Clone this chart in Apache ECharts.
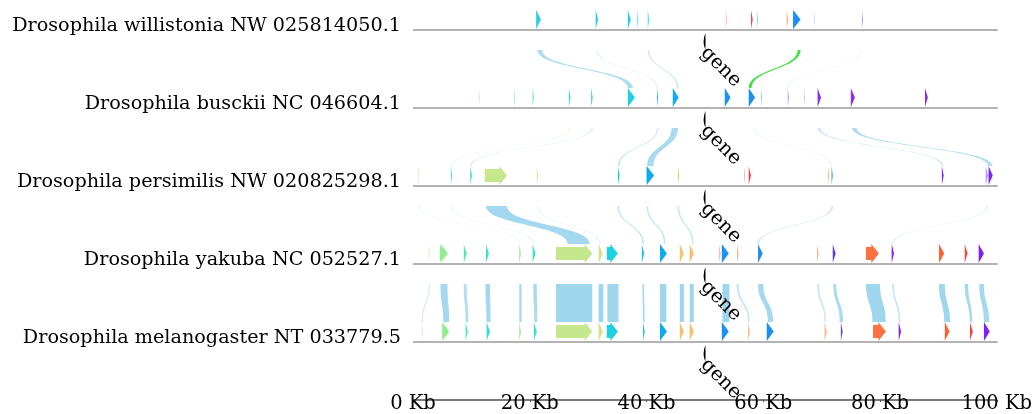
<!DOCTYPE html>
<html><head><meta charset="utf-8">
<script src="https://cdn.jsdelivr.net/npm/echarts@6/dist/echarts.min.js"></script>
<style>html,body{margin:0;padding:0;background:#fff}#c{width:1035px;height:414px}</style>
</head><body><div id="c"></div>
<script>
// ---------- DATA ----------
const trackNames = [
  'Drosophila willistonia NW 025814050.1',
  'Drosophila busckii NC 046604.1',
  'Drosophila persimilis NW 020825298.1',
  'Drosophila yakuba NC 052527.1',
  'Drosophila melanogaster NT 033779.5'
];
const xTicksKb = [0, 20, 40, 60, 80, 100];
const markerKb = 50;
const markerLabel = 'gene';

// genes: [start Kb, end Kb, ortholog group]
const genesWillistonia = [
  [21.1,21.9,'cyan'],[31.3,31.7,'cyan'],[36.8,37.3,'cyan'],[38.4,38.6,'cyanL'],[40.2,40.5,'cyanL'],
  [53.6,53.8,'pink'],[57.9,58.2,'red'],[58.9,59.1,'blueL'],[64.0,64.3,'peach'],[65.1,66.4,'blue2'],
  [68.7,68.8,'blueL'],[76.9,77.1,'lavender']
];
const genesBusckii = [
  [11.3,11.5,'greenF'],[17.3,17.5,'mint'],[20.5,20.7,'teal'],[26.7,27.0,'teal'],[30.5,30.8,'teal'],
  [36.8,38.0,'cyan'],[41.8,42.0,'cyanB'],[44.5,45.5,'blue'],[53.4,54.4,'blue2'],[57.5,58.6,'blue2'],
  [59.6,59.8,'blueL'],[64.2,64.4,'lavender'],[67.0,67.1,'lavender'],[69.3,69.9,'purple'],
  [75.0,75.7,'purple'],[87.7,88.2,'purple']
];
const genesPersimilis = [
  [0.9,1.1,'greenF'],[6.5,6.7,'teal'],[9.8,10.1,'teal'],[12.3,16.1,'lime'],[21.2,21.4,'ygreen'],
  [35.1,35.4,'cyan'],[40.0,41.3,'blue'],[45.4,45.6,'yellow'],[56.7,56.9,'pink'],[57.5,57.9,'red'],
  [71.1,71.3,'peach'],[71.7,71.9,'blue2'],[90.6,90.9,'violet'],[98.1,98.5,'lavender'],[98.6,99.3,'violet']
];
const genesYakuba = [
  [2.7,2.9,'greenF'],[4.6,6.0,'lgreen'],[8.7,9.2,'aqua'],[12.5,13.0,'teal'],[18.2,18.5,'lgreen2'],
  [20.5,21.0,'teal'],[24.5,30.7,'lime'],[31.8,32.5,'ygreen'],[33.2,35.1,'cyan'],[39.2,39.6,'cyanB'],
  [42.3,43.5,'blue'],[45.7,46.4,'yellow'],[47.4,48.1,'orangeY'],[52.4,52.7,'pink'],[52.9,54.1,'blue2'],
  [55.5,55.8,'peach'],[59.1,59.9,'blue2'],[69.2,69.5,'peach'],[71.9,72.4,'indigo'],[77.6,79.8,'orange'],
  [82.0,82.4,'violet'],[90.1,91.0,'orangeR'],[94.5,95.0,'red'],[96.9,97.8,'violet']
];
const genesMelanogaster = [
  [1.5,1.7,'greenF'],[5.0,6.2,'lgreen'],[9.0,9.4,'aqua'],[12.6,13.2,'teal'],[18.2,18.5,'lgreen2'],
  [20.7,21.2,'teal'],[24.5,30.7,'lime'],[31.8,32.5,'ygreen'],[33.2,35.1,'cyan'],[39.4,39.7,'cyanB'],
  [42.3,43.5,'blue'],[45.7,46.4,'yellow'],[47.4,48.1,'orangeY'],[52.9,54.1,'blue2'],[57.4,57.7,'peach'],
  [60.6,61.8,'blue2'],[70.5,70.9,'peach'],[73.3,73.6,'indigo'],[78.8,81.0,'orange'],[83.2,83.6,'violet'],
  [91.1,91.9,'orangeR'],[95.4,95.9,'red'],[97.8,98.8,'violet']
];

// links: [upper start, upper end, lower start, lower end, identity %]
const linksWilBus = [
  [21.3,22.1,36.8,37.7,85],[31.4,31.7,41.7,42.0,25],[40.2,40.5,45.2,45.5,50],
  [68.6,68.8,59.6,59.8,20],[76.9,77.1,64.2,64.4,25]
];
const invertedWilBus = [[65.9,66.4,57.5,58.0,100]];
const linksBusPer = [
  [30.5,30.8,9.8,10.1,40],[41.8,42.0,35.1,35.4,60],[44.3,45.4,40.1,41.2,90],
  [58.3,58.6,71.6,71.9,20],[69.3,69.8,90.6,90.9,55],[75.2,76.0,98.5,99.3,80]
];
const invertedBusPer = [[26.8,27.0,6.5,6.7,35]];
const linksPerYak = [
  [0.8,1.1,18.2,18.5,20],[6.5,6.8,20.5,20.9,20],[12.5,16.1,26.5,30.3,95],[21.2,21.5,31.9,32.2,25],
  [35.0,35.3,39.3,39.6,60],[40.0,40.3,43.0,43.3,60],[45.3,45.6,47.8,48.1,55],
  [71.7,72.0,59.0,59.3,50],[98.2,98.5,82.1,82.4,30]
];
const linksYakMel = [
  [2.7,2.9,1.5,1.7,50],[4.7,5.9,5.2,6.2,95],[8.7,9.2,9.0,9.5,80],[12.4,13.2,12.6,13.3,95],
  [18.2,18.6,18.2,18.6,90],[20.6,21.2,20.8,21.3,90],[24.5,30.7,24.5,30.7,100],[31.8,32.6,31.8,32.6,100],
  [33.3,35.2,33.3,35.2,100],[39.3,39.6,39.4,39.7,90],[42.3,43.4,42.3,43.4,100],[45.7,46.4,45.7,46.4,100],
  [47.4,48.1,47.4,48.1,100],[53.0,54.2,53.0,54.2,100],[55.4,55.8,57.4,57.7,60],[59.1,60.0,60.8,61.7,95],
  [69.2,69.6,70.5,70.8,50],[72.0,72.5,73.1,73.7,90],[77.6,80.0,78.7,81.0,100],[82.1,82.4,83.2,83.5,60],
  [90.1,91.1,91.0,92.0,100],[94.5,95.1,95.4,95.8,95],[97.0,97.8,97.8,98.7,95]
];

// ---------- STYLE ----------
const palette = {
  greenF:'#c8f5c8', lgreen:'#90ee90', lgreen2:'#a8e890', mint:'#a0f0d0', aqua:'#50e8b8',
  teal:'#40e0d0', lime:'#c5e88c', ygreen:'#d4e08c', cyan:'#1fd0e0', cyanL:'#60d8f0',
  cyanB:'#20c0f0', blue:'#10aaee', blueL:'#90c8f8', blue2:'#1e90f0', yellow:'#ebc86e',
  orangeY:'#f2bf6e', pink:'#f8b8b8', peach:'#ffb48a', red:'#f04848', orange:'#ff7043',
  orangeR:'#ff5e30', indigo:'#5a3cf5', violet:'#7f1ff5', lavender:'#a0a0f8', purple:'#8a30f0'
};
const LINK_RGB = [158, 214, 238];
const INV_RGB = [64, 224, 64];
const INV2_RGB = [176, 236, 160];
const FONT_FAMILY = '"DejaVu Serif", serif';
const FONT_SIZE = 19.2;

// ---------- BUILD ----------
const geneTracks = [genesWillistonia, genesBusckii, genesPersimilis, genesYakuba, genesMelanogaster];
const allGenes = [];
geneTracks.forEach((arr, t) => arr.forEach(g => allGenes.push({t, s:g[0], e:g[1], c:palette[g[2]]})));

const allLinks = [];
function addLinks(arr, gap, rgb){ arr.forEach(l => allLinks.push({gap, s1:l[0], e1:l[1], s2:l[2], e2:l[3], id:l[4], rgb})); }
addLinks(linksWilBus, 0, LINK_RGB);
addLinks(invertedWilBus, 0, INV_RGB);
addLinks(linksBusPer, 1, LINK_RGB);
addLinks(invertedBusPer, 1, INV2_RGB);
addLinks(linksPerYak, 2, LINK_RGB);
addLinks(linksYakMel, 3, LINK_RGB);

const Y_MAX = 370 / 78;

function ribbonPath(a1, b1, yt, a2, b2, yb) {
  const ym = (yt + yb) / 2;
  return 'M' + a1 + ',' + yt + 'C' + a1 + ',' + ym + ' ' + a2 + ',' + ym + ' ' + a2 + ',' + yb +
         'L' + b2 + ',' + yb + 'C' + b2 + ',' + ym + ' ' + b1 + ',' + ym + ' ' + b1 + ',' + yt + 'Z';
}

const chart = echarts.init(document.getElementById('c'));
chart.setOption({
  animation: false,
  backgroundColor: '#fff',
  grid: { left: 413, right: 38, top: 30, bottom: 14 },
  xAxis: {
    type: 'value', min: xTicksKb[0], max: xTicksKb[xTicksKb.length - 1], interval: 20,
    splitLine: { show: false },
    axisLine: { show: true, onZero: false, lineStyle: { color: '#7a7a7a', width: 1.8 } },
    axisTick: { show: true, length: 2, inside: false, lineStyle: { color: '#555', width: 1 } },
    axisLabel: { formatter: v => v + ' Kb', color: '#000', fontFamily: FONT_FAMILY, fontSize: 19.5,
                 margin: 4, verticalAlign: 'middle' }
  },
  yAxis: { type: 'value', min: 0, max: Y_MAX, inverse: true, show: false },
  series: [
    { // links
      type: 'custom', z: 1, silent: true,
      data: allLinks.map((_, i) => [i]),
      renderItem: (params, api) => {
        const l = allLinks[params.dataIndex];
        const yt = api.coord([0, l.gap])[1] + 20;
        const yb = api.coord([0, l.gap + 1])[1] - 20;
        const a1 = api.coord([l.s1, 0])[0], b1 = api.coord([l.e1, 0])[0];
        const a2 = api.coord([l.s2, 0])[0], b2 = api.coord([l.e2, 0])[0];
        return { type: 'path', shape: { pathData: ribbonPath(a1, b1, yt, a2, b2, yb) },
                 style: { fill: 'rgba(' + l.rgb.join(',') + ',' + (l.id / 100) + ')' } };
      }
    },
    { // track lines
      type: 'custom', z: 2, silent: true,
      data: trackNames.map((_, i) => [i]),
      renderItem: (params, api) => {
        const i = params.dataIndex;
        const p0 = api.coord([xTicksKb[0], i]), p1 = api.coord([xTicksKb[xTicksKb.length - 1], i]);
        return { type: 'line', shape: { x1: p0[0], y1: p0[1], x2: p1[0] + 1, y2: p1[1] },
                 style: { stroke: '#9a9a9a', lineWidth: 1.5 } };
      }
    },
    { // genes
      type: 'custom', z: 3, silent: true,
      data: allGenes.map((_, i) => [i]),
      renderItem: (params, api) => {
        const g = allGenes[params.dataIndex];
        const x0 = api.coord([g.s, g.t])[0], x1 = api.coord([g.e, g.t])[0];
        const yc = api.coord([0, g.t])[1] - 10.5;
        const hh = 9.5, bh = 6.5;
        const len = x1 - x0;
        let pts;
        if (len <= 7.5) {
          pts = [[x0, yc - hh], [x1, yc], [x0, yc + hh]];
        } else {
          const hx = x1 - 7.5;
          pts = [[x0, yc - bh], [hx, yc - bh], [hx, yc - hh], [x1, yc], [hx, yc + hh], [hx, yc + bh], [x0, yc + bh]];
        }
        return { type: 'polygon', shape: { points: pts }, style: { fill: g.c } };
      }
    },
    { // marker
      type: 'custom', z: 4, silent: true,
      data: trackNames.map((_, i) => [i]),
      renderItem: (params, api) => {
        const i = params.dataIndex;
        const p = api.coord([markerKb, i]);
        const x = p[0] + 0.5, y0 = p[1] + 3, y1 = p[1] + 20, ym = (y0 + y1) / 2;
        const d = 'M' + x + ',' + y0 + 'Q' + (x - 3.5) + ',' + ym + ' ' + x + ',' + y1 +
                  'Q' + (x + 0.3) + ',' + ym + ' ' + x + ',' + y0 + 'Z';
        return { type: 'group', children: [
          { type: 'path', shape: { pathData: d }, style: { fill: '#000' } },
          { type: 'text', x: p[0] + 16, y: p[1] + 37, rotation: -Math.PI / 4,
            style: { text: markerLabel, fill: '#000', font: '19.5px ' + FONT_FAMILY,
                     align: 'center', verticalAlign: 'middle' } }
        ] };
      }
    },
    { // track labels
      type: 'custom', z: 4, silent: true,
      data: trackNames.map((_, i) => [i]),
      renderItem: (params, api) => {
        const i = params.dataIndex;
        const p = api.coord([0, i]);
        return { type: 'text', x: p[0] - 12, y: p[1] - 4,
                 style: { text: trackNames[i], fill: '#000', font: FONT_SIZE + 'px ' + FONT_FAMILY,
                          align: 'right', verticalAlign: 'middle' } };
      }
    }
  ]
});
</script>
</body></html>
